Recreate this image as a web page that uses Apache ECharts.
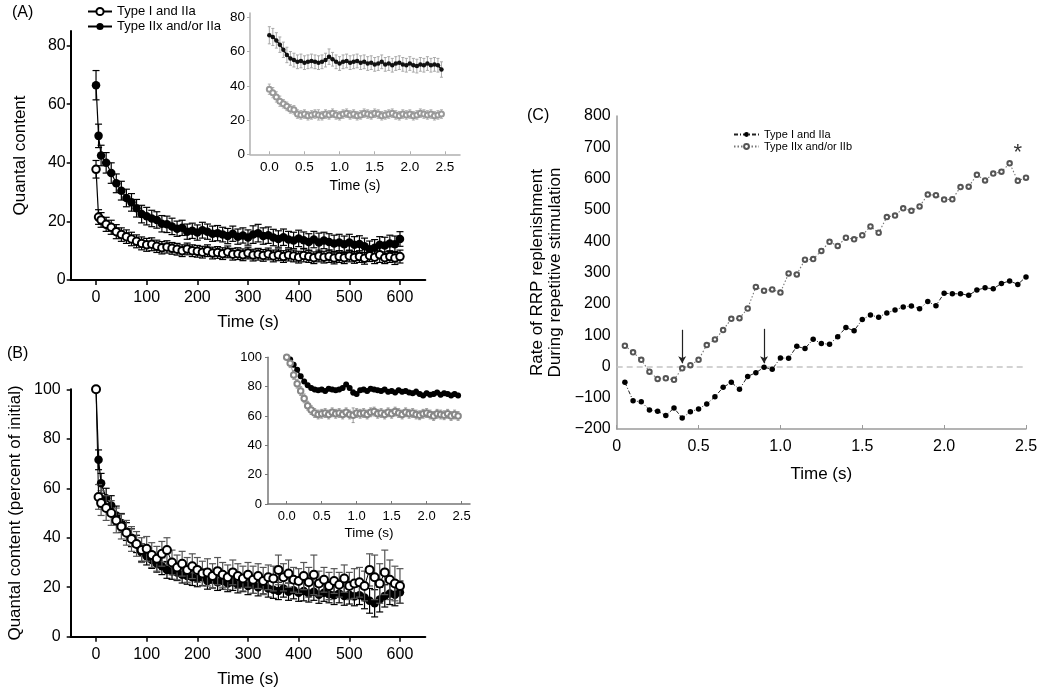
<!DOCTYPE html>
<html><head><meta charset="utf-8">
<script src="https://cdn.jsdelivr.net/npm/echarts@6/dist/echarts.min.js"></script>
<style>html,body{margin:0;padding:0;background:#fff}#c{width:1050px;height:695px}</style>
</head><body><div id="c"></div>
<script>
// ---------- DATA ----------
const tMain = [0,5,10,20,30,40,50,60,70,80,90,100,110,120,130,140,150,160,170,180,190,200,210,220,230,240,250,260,270,280,290,300,310,320,330,340,350,360,370,380,390,400,410,420,430,440,450,460,470,480,490,500,510,520,530,540,550,560,570,580,590,600];
// Panel A (quantal content)
const aTypeIIx = [66.5,49.2,42.5,40,36.5,33,30.5,28,26.5,24.5, 22.5,21.8,21,20.5,19.2,19,18.3,17.5,17.8,16.5, 16.8,16.2,17,16.5,15.8,16,15.5,15,15.8,14.8, 15.2,14.5,15.5,16,15,15.3,14.5,14,14.6,13.8, 13.5,14.2,13.6,13,13.8,12.8,13.5,13,12.5,12.8, 12.2,12.8,12,12.3,11.5,10.5,11,12,11.8,12.5, 12.2,14];
const aTypeIIxErr = [5,4,3.5,3.5,3.5,3.2,3.2,3,3,3, 3,3,2.8,2.8,2.8,2.8,2.8,2.6,2.6,2.6, 2.6,2.6,2.7,2.6,2.6,2.6,2.5,2.6,2.6,2.6, 2.6,2.6,3,3,2.8,2.8,2.8,2.8,2.8,2.8, 2.8,2.8,2.8,2.8,2.8,3.2,2.8,2.8,2.8,2.8, 2.8,2.8,2.8,2.8,2.8,2.8,2.8,2.8,2.8,2.8, 2.8,2.5];
const aTypeI = [37.8,21.5,20.5,19,18,16.5,15.5,14.8,14,13.2, 12.5,12,12.2,11.5,11,11.3,10.8,10.5,10,10.6, 10,9.8,9.5,10,9.2,9.4,9,9.6,8.8,9, 8.6,9.2,8.5,8.8,8.4,8.9,8.2,8.6,8,8.5, 8.2,7.8,8.4,8,7.6,8.2,7.8,8.1,7.5,8, 7.6,8.2,7.7,8,7.4,8.3,7.8,8.6,7.6,8, 7.5,8];
const aTypeIErr = [3,2.5,2.5,2.4,2.4,2.4,2.3,2.3,2.3,2.2, 2.2,2.2,2.2,2.1,2.1,2.1,2,2,2,2, 2,2,2,2,2,2,2,2,2,2, 2,2,2,2,2,2,2,2,2,2, 2,2,2.2,2,2,2,2,2.1,2,2, 2,2,2,2,2,2,2.2,2.6,2,2, 2.2,2.2];
// Panel B (percent of initial)
const bTypeIIx = [100,71.5,62,56,53,49,46,42.5,40,37.5, 34,32.5,31,29.5,28.5,27,26.5,26,25,24.5, 24,23.5,24,22.5,23,22,22.5,21.5,22,21, 21.5,20.5,21,20,20.8,19.5,19,18.5,19.5,18.2, 18.8,17.8,18.5,17.5,18.2,17,17.8,17.2,16.8,17.5, 16.5,17,16.3,16.8,15.8,14.5,13.5,15,16.5,17.5, 17,18];
const bTypeIIxErr = [0.5,4,4,4,4,3.8,3.8,3.6,3.6,3.5, 3.5,3.5,3.4,3.4,3.4,3.4,3.3,3.3,3.3,3.3, 3.3,3.3,3.3,3.3,3.3,3.3,3.3,3.3,3.3,3.3, 3.3,3.5,3.5,3.5,3.5,3.5,3.5,3.5,3.5,3.5, 3.5,3.5,4,3.5,3.5,3.5,3.5,3.5,3.8,3.8, 3.8,3.8,3.8,3.8,4.5,5,5.5,5,4.5,4.5, 4.5,4.5];
const bTypeI = [100,56.5,54,52,50,47,44.5,42,39.5,37.5, 35,35.5,33,31.5,33.5,35,30,28,29.5,27, 28.5,27,25.5,26,24.5,26.5,25,24,26,24.5, 23.5,25,23,24.5,22.5,24,23.5,27,24,25.5, 23,22.5,24.5,22,25,21.5,23,20.5,22.5,21, 23.5,20.5,21.5,22,20.5,27,24,21.5,26,23, 21.5,20.5];
const bTypeIErr = [0.5,5,5,5,5,5,5,5,5,5, 5,5,5,5,5,5,5,5,5,5, 5,5,5,5.5,5,5.5,5,5,5,5, 5,5,5.5,5,5.5,5,5,6,5.5,5.5, 5,5,5.5,6,8,5,5,5.5,5,5, 5.5,5.5,6,6,6,6.5,9,8,9,8, 7,7];
// Insets (first 2.5 s)
const tIns = [0,0.05,0.1,0.15,0.2,0.25,0.3,0.35,0.4,0.45,0.5,0.55,0.6,0.65,0.7,0.75,0.8,0.85,0.9,0.95,1.0,1.05,1.1,1.15,1.2,1.25,1.3,1.35,1.4,1.45,1.5,1.55,1.6,1.65,1.7,1.75,1.8,1.85,1.9,1.95,2.0,2.05,2.1,2.15,2.2,2.25,2.3,2.35,2.4,2.45];
const insATypeIIx = [69.5,68.5,66.5,64,61,58,56,55,54,54.5, 53.5,54,54.5,54,53.5,54,55,57,55.5,54, 53,54,54.5,53.5,54,54.5,53.5,54,53,53.5, 52.5,53,54,52.5,53,52,53,53.5,52.5,52, 53,52,51.5,52.5,52,53,52,52.5,52,49.5];
const insATypeIIxErr = [5,5,4.5,4.5,4.5,4.5,4,4,4,4, 4,4,4,4,4,4,4,4.5,4,4, 4,4,4,4,4,4,4,4,4,4, 4,4,4,4,4,4,4,4,4,4, 4,4,4,4,4,4,4,4,4,4.5];
const insATypeI = [38,36,33.5,31,29.5,28,26.5,26,23.5,23, 23.5,22.5,23,23.5,23,22.5,23.5,23,24,23, 22.5,23.5,24,23,23.5,22.5,23,24,23.5,23, 24,23.5,22.5,23,23.5,24,23,22.5,23.5,23, 23.5,22.5,23,24,23.5,23,23.5,22.5,23,23.5];
const insATypeIErr = [3,3,3,3,2.5,2.5,2.5,2.5,2.5,2.5, 2.5,2.5,2.5,2.5,3,2.5,2.5,2.5,2.5,2.5, 2.5,2.5,2.5,2.5,2.5,2.5,2.5,2.5,2.5,2.5, 2.5,2.5,2.5,2.5,2.5,2.5,2.5,2.5,2.5,2.5, 2.5,2.5,2.5,2.5,2.5,2.5,2.5,2.5,2.5,2.5];
const insBTypeIIx = [100,98.5,95,91.5,87,83.5,81,79,78,77.5, 78,77,78.5,78,77.5,78,79,81.5,79,76, 75,77.5,78,77,78.5,78,77.5,77,78,76.5, 77,76,77.5,76.5,77,76,75.5,76.5,75,74, 75.5,74.5,75,76,74.5,75.5,75,74,75,74];
const insBTypeIIxErr = [0.5,1.5,1.5,1.5,1.5,1.5,1.5,1.5,1.5,1.5, 1.5,1.5,1.5,1.5,1.5,1.5,1.5,1.5,1.5,2, 1.5,1.5,1.5,1.5,1.5,1.5,1.5,1.5,1.5,1.5, 1.5,1.5,1.5,1.5,1.5,1.5,1.5,2,1.5,1.5, 1.5,1.5,1.5,1.5,1.5,1.5,1.5,1.5,1.5,1.5];
const insBTypeI = [100,96,88,82,77,72,67,64,62,61, 61.5,62,61,62.5,61.5,62,61,62.5,61,60.5, 62,61.5,62,61,62.5,63,61.5,62,61,62.5, 61.5,63,62,61,62.5,61.5,62,61,60.5,61.5, 62,61,60,61.5,61,60.5,61.5,60,61,60];
const insBTypeIErr = [0.5,3,3,3,3,3,3,3,3,3, 3,3,3,3,3,3,3,3,3,5, 3,3,3,3,3,3,3,3,3,3, 3,3,3,3,3,3,3,3,3,3, 3,3,3,3,3,3,3,3,3,3];
// Panel C (rate of RRP replenishment)
const tC = [0.05,0.1,0.15,0.2,0.25,0.3,0.35,0.4,0.45,0.5,0.55,0.6,0.65,0.7,0.75,0.8,0.85,0.9,0.95,1.0,1.05,1.1,1.15,1.2,1.25,1.3,1.35,1.4,1.45,1.5,1.55,1.6,1.65,1.7,1.75,1.8,1.85,1.9,1.95,2.0,2.05,2.1,2.15,2.2,2.25,2.3,2.35,2.4,2.45,2.5];
const cTypeI = [-51,-110,-113,-139,-143,-157,-133,-165,-145,-136, -120,-97,-67,-51,-73,-32,-20,-3,-9,27, 26,64,57,87,73,71,95,124,114,150, 164,157,171,180,190,193,184,207,194,234, 232,232,227,244,251,248,265,273,262,286];
const cTypeIIx = [66,45,21,-17,-40,-38,-43,-6,4,21, 68,86,116,152,154,185,254,242,246,236, 297,294,341,343,369,398,385,411,406,419, 447,427,477,482,505,497,511,549,547,533, 534,573,574,612,594,616,622,649,593,603];
const arrowX = [0.4, 0.9];
const arrowFrom = [117, 120];
const arrowTo = [10, 10];
const starPoint = [2.45, 700];
// tick labels
const mainXTicks = [0,100,200,300,400,500,600];
const aYTicks = [0,20,40,60,80];
const bYTicks = [0,20,40,60,80,100];
const insXTicks = [0,0.5,1,1.5,2,2.5];
const insAYTicks = [0,20,40,60,80];
const insBYTicks = [0,20,40,60,80,100];

// ---------- CHART ----------
const FONT = '"Liberation Sans", Arial, Helvetica, sans-serif';
const chart = echarts.init(document.getElementById('c'), null, {renderer:'canvas'});
const zip = (t, v) => t.map((x, i) => [x, v[i]]);

function errSeries(gi, t, v, e, color, cap, lw, z) {
  return {
    type:'custom', xAxisIndex:gi, yAxisIndex:gi, z:z, silent:true, animation:false,
    data: t.map((x, i) => [x, v[i], e[i]]),
    encode:{x:0, y:1},
    renderItem: function (params, api) {
      const x = api.value(0), y = api.value(1), s = api.value(2);
      const a = api.coord([x, y + s]), b = api.coord([x, y - s]);
      const st = {stroke:color, lineWidth:lw, fill:null};
      return {type:'group', children:[
        {type:'line', shape:{x1:a[0], y1:a[1], x2:b[0], y2:b[1]}, style:st},
        {type:'line', shape:{x1:a[0]-cap, y1:a[1], x2:a[0]+cap, y2:a[1]}, style:st},
        {type:'line', shape:{x1:b[0]-cap, y1:b[1], x2:b[0]+cap, y2:b[1]}, style:st}
      ]};
    }
  };
}
function lineS(name, gi, t, v, o) {
  return Object.assign({
    type:'line', name:name, xAxisIndex:gi, yAxisIndex:gi, data:zip(t, v),
    showSymbol:true, animation:false, silent:true
  }, o);
}
function xAx(gi, min, max, ticks, o) {
  return Object.assign({
    type:'value', gridIndex:gi, min:min, max:max,
    splitLine:{show:false},
    axisLine:{show:true, onZero:false, lineStyle:{color:'#000', width:2}},
    axisTick:{show:true, customValues:ticks, length:5, lineStyle:{color:'#000', width:1.5}},
    axisLabel:{customValues:ticks, fontSize:16, color:'#000', margin:10, fontFamily:FONT},
    nameLocation:'middle', nameTextStyle:{fontSize:17, color:'#000', fontFamily:FONT}
  }, o);
}

const gray = '#9a9a9a';
const option = {
  animation:false,
  backgroundColor:'#fff',
  textStyle:{fontFamily:FONT, color:'#000'},
  grid:[
    {left:70.7, top:31, width:354.6, height:249, outerBoundsMode:'none'},
    {left:250, top:13, width:210, height:141.3, outerBoundsMode:'none', z:5},
    {left:70.7, top:389.3, width:354.6, height:247.4, outerBoundsMode:'none'},
    {left:268, top:357.3, width:202, height:146.7, outerBoundsMode:'none', z:5},
    {left:616.7, top:116, width:409.3, height:313, outerBoundsMode:'none'}
  ],
  xAxis:[
    xAx(0, -50, 650, mainXTicks, {name:'Time (s)', nameGap:34}),
    xAx(1, -0.275, 2.714, insXTicks, {
      name:'Time (s)', nameGap:25, nameTextStyle:{fontSize:14, color:'#000', fontFamily:FONT},
      axisLine:{show:true, onZero:false, lineStyle:{color:'#b0b0b0', width:1.5}},
      axisTick:{show:true, inside:true, customValues:insXTicks, length:3, lineStyle:{color:'#b0b0b0', width:1}},
      axisLabel:{customValues:insXTicks, fontSize:13.5, color:'#000', margin:6, fontFamily:FONT, formatter:v=>v.toFixed(1)}
    }),
    xAx(2, -50, 650, mainXTicks, {name:'Time (s)', nameGap:34}),
    xAx(3, -0.267, 2.62, insXTicks, {
      name:'Time (s)', nameGap:22, nameTextStyle:{fontSize:13.5, color:'#000', fontFamily:FONT},
      axisLine:{show:true, onZero:false, lineStyle:{color:'#777', width:1.5}},
      axisTick:{show:true, inside:true, customValues:insXTicks, length:3, lineStyle:{color:'#777', width:1}},
      axisLabel:{customValues:insXTicks, fontSize:13, color:'#000', margin:6, fontFamily:FONT, formatter:v=>v.toFixed(1)}
    }),
    {
      type:'value', gridIndex:4, min:0, max:2.5, interval:0.5,
      splitLine:{show:false},
      axisLine:{show:true, onZero:false, lineStyle:{color:gray, width:1.5}},
      axisTick:{show:true, inside:true, length:4, lineStyle:{color:gray, width:1}},
      axisLabel:{fontSize:16, color:'#000', margin:10, fontFamily:FONT, formatter:v=>v===0?'0':v.toFixed(1)},
      name:'Time (s)', nameLocation:'middle', nameGap:37, nameTextStyle:{fontSize:17, color:'#000', fontFamily:FONT}
    }
  ],
  yAxis:[
    xAx(0, 0, 85, aYTicks, {name:'Quantal content', nameGap:42,
      axisLabel:{customValues:aYTicks, fontSize:16, color:'#000', margin:5, fontFamily:FONT},
      axisTick:{show:true, customValues:aYTicks, length:4, lineStyle:{color:'#000', width:1.5}}}),
    xAx(1, 0, 82.5, insAYTicks, {
      axisLine:{show:true, onZero:false, lineStyle:{color:'#b0b0b0', width:1.5}},
      axisTick:{show:true, customValues:insAYTicks, length:3, lineStyle:{color:'#b0b0b0', width:1}},
      axisLabel:{customValues:insAYTicks, fontSize:13.5, color:'#000', margin:5, fontFamily:FONT}
    }),
    xAx(2, 0, 100, bYTicks, {name:'Quantal content (percent of initial)', nameGap:47,
      axisLabel:{customValues:bYTicks, fontSize:16, color:'#000', margin:10, fontFamily:FONT},
      axisTick:{show:true, customValues:bYTicks, length:4, lineStyle:{color:'#000', width:1.5}}}),
    xAx(3, 0, 100, insBYTicks, {
      axisLine:{show:true, onZero:false, lineStyle:{color:'#777', width:1.5}},
      axisTick:{show:true, customValues:insBYTicks, length:3, lineStyle:{color:'#777', width:1}},
      axisLabel:{customValues:insBYTicks, fontSize:13, color:'#000', margin:6, fontFamily:FONT}
    }),
    {
      type:'value', gridIndex:4, min:-200, max:800, interval:100,
      splitLine:{show:false},
      axisLine:{show:true, onZero:false, lineStyle:{color:gray, width:1.5}},
      axisTick:{show:false},
      axisLabel:{fontSize:16, color:'#000', margin:6, fontFamily:FONT, formatter:v=>String(v).replace('-', '\u2212')},
      name:'Rate of RRP replenishment\nDuring repetitive stimulation', nameLocation:'middle', nameGap:52,
      nameTextStyle:{fontSize:17, lineHeight:18, color:'#000', fontFamily:FONT, align:'center'}
    }
  ],
  legend:[
    {data:['Type I and IIa','Type IIx and/or IIa'], orient:'vertical', left:87, top:5, padding:0,
     itemWidth:24, itemHeight:9, itemGap:2, selectedMode:false,
     textStyle:{fontSize:13, color:'#000', fontFamily:FONT}},
    {data:['C: Type I and IIa','C: Type IIx and/or IIb'], formatter:n=>n.slice(3), orient:'vertical', left:733, top:129, padding:0,
     itemWidth:25, itemHeight:6, itemGap:1, selectedMode:false,
     textStyle:{fontSize:11, color:'#000', fontFamily:FONT}}
  ],
  graphic:[
    {type:'text', left:12, top:5, style:{text:'(A)', fontSize:16, fill:'#000', fontFamily:FONT}},
    {type:'text', left:7, top:346, style:{text:'(B)', fontSize:16, fill:'#000', fontFamily:FONT}},
    {type:'text', left:527, top:108, style:{text:'(C)', fontSize:16, fill:'#000', fontFamily:FONT}}
  ],
  series:[
    // Panel A main
    errSeries(0, tMain, aTypeIIx, aTypeIIxErr, '#000', 3.5, 1.2, 2),
    lineS('Type IIx and/or IIa', 0, tMain, aTypeIIx, {symbol:'circle', symbolSize:8.5, z:3,
      itemStyle:{color:'#000'}, lineStyle:{color:'#000', width:1.2}}),
    errSeries(0, tMain, aTypeI, aTypeIErr, '#000', 3.5, 1.2, 4),
    lineS('Type I and IIa', 0, tMain, aTypeI, {symbol:'emptyCircle', symbolSize:7.5, z:5,
      itemStyle:{color:'#000', borderWidth:1.5}, lineStyle:{color:'#000', width:1.2}}),
    // Panel A inset
    errSeries(1, tIns, insATypeIIx, insATypeIIxErr, '#a8a8a8', 1.5, 1, 6),
    lineS('Ai: Type IIx', 1, tIns, insATypeIIx, {symbol:'circle', symbolSize:4.5, z:7,
      itemStyle:{color:'#111'}, lineStyle:{color:'#111', width:1.5}}),
    errSeries(1, tIns, insATypeI, insATypeIErr, '#b0b0b0', 1.5, 1, 6),
    lineS('Ai: Type I', 1, tIns, insATypeI, {symbol:'emptyCircle', symbolSize:5, z:7,
      itemStyle:{color:'#999', borderWidth:1}, lineStyle:{color:'#aaa', width:1}}),
    // Panel B main
    errSeries(2, tMain, bTypeIIx, bTypeIIxErr, '#000', 3.5, 1.2, 2),
    lineS('B: Type IIx', 2, tMain, bTypeIIx, {symbol:'circle', symbolSize:8.5, z:3,
      itemStyle:{color:'#000'}, lineStyle:{color:'#000', width:1.2}}),
    errSeries(2, tMain, bTypeI, bTypeIErr, '#555', 3.5, 1.2, 4),
    lineS('B: Type I', 2, tMain, bTypeI, {symbol:'emptyCircle', symbolSize:8, z:5,
      itemStyle:{color:'#000', borderWidth:1.5}, lineStyle:{color:'#000', width:1}}),
    // Panel B inset
    errSeries(3, tIns, insBTypeIIx, insBTypeIIxErr, '#999', 1.5, 1, 6),
    lineS('Bi: Type IIx', 3, tIns, insBTypeIIx, {symbol:'circle', symbolSize:6, z:7,
      itemStyle:{color:'#000'}, lineStyle:{color:'#000', width:1.5}}),
    errSeries(3, tIns, insBTypeI, insBTypeIErr, '#999', 1.5, 1, 6),
    lineS('Bi: Type I', 3, tIns, insBTypeI, {symbol:'emptyCircle', symbolSize:5.5, z:7,
      itemStyle:{color:'#888', borderWidth:1}, lineStyle:{color:'#999', width:1}}),
    // Panel C
    lineS('C: Type I and IIa', 4, tC, cTypeI, {symbol:'circle', symbolSize:5.5, z:5,
      itemStyle:{color:'#000'}, lineStyle:{color:'#222', width:1, type:[4,2,1,2]},
      markLine:{silent:true, animation:false, symbol:['none','none'], label:{show:false},
        data:[
          [{coord:[0, 0], lineStyle:{color:'#c4c4c4', width:1.5, type:[6,4]}}, {coord:[2.5, 0]}],
          [{coord:[arrowX[0], arrowFrom[0]], lineStyle:{color:'#222', width:1.2, type:'solid'}}, {coord:[arrowX[0], arrowTo[0]], symbol:'arrow', symbolSize:[6,7]}],
          [{coord:[arrowX[1], arrowFrom[1]], lineStyle:{color:'#222', width:1.2, type:'solid'}}, {coord:[arrowX[1], arrowTo[1]], symbol:'arrow', symbolSize:[6,7]}]
        ]},
      markPoint:{silent:true, animation:false, data:[
        {coord:starPoint, symbol:'circle', symbolSize:1, itemStyle:{color:'rgba(0,0,0,0)'},
         label:{show:true, position:'inside', formatter:'*', fontSize:22, color:'#333', offset:[0,6], fontFamily:FONT}}
      ]}
    }),
    lineS('C: Type IIx and/or IIb', 4, tC, cTypeIIx, {symbol:'emptyCircle', symbolSize:4.5, z:5,
      itemStyle:{color:'#555', borderWidth:0.8}, lineStyle:{color:'#777', width:1.1, type:[1.5,2]}})
  ]
};
chart.setOption(option);
</script>
</body></html>
